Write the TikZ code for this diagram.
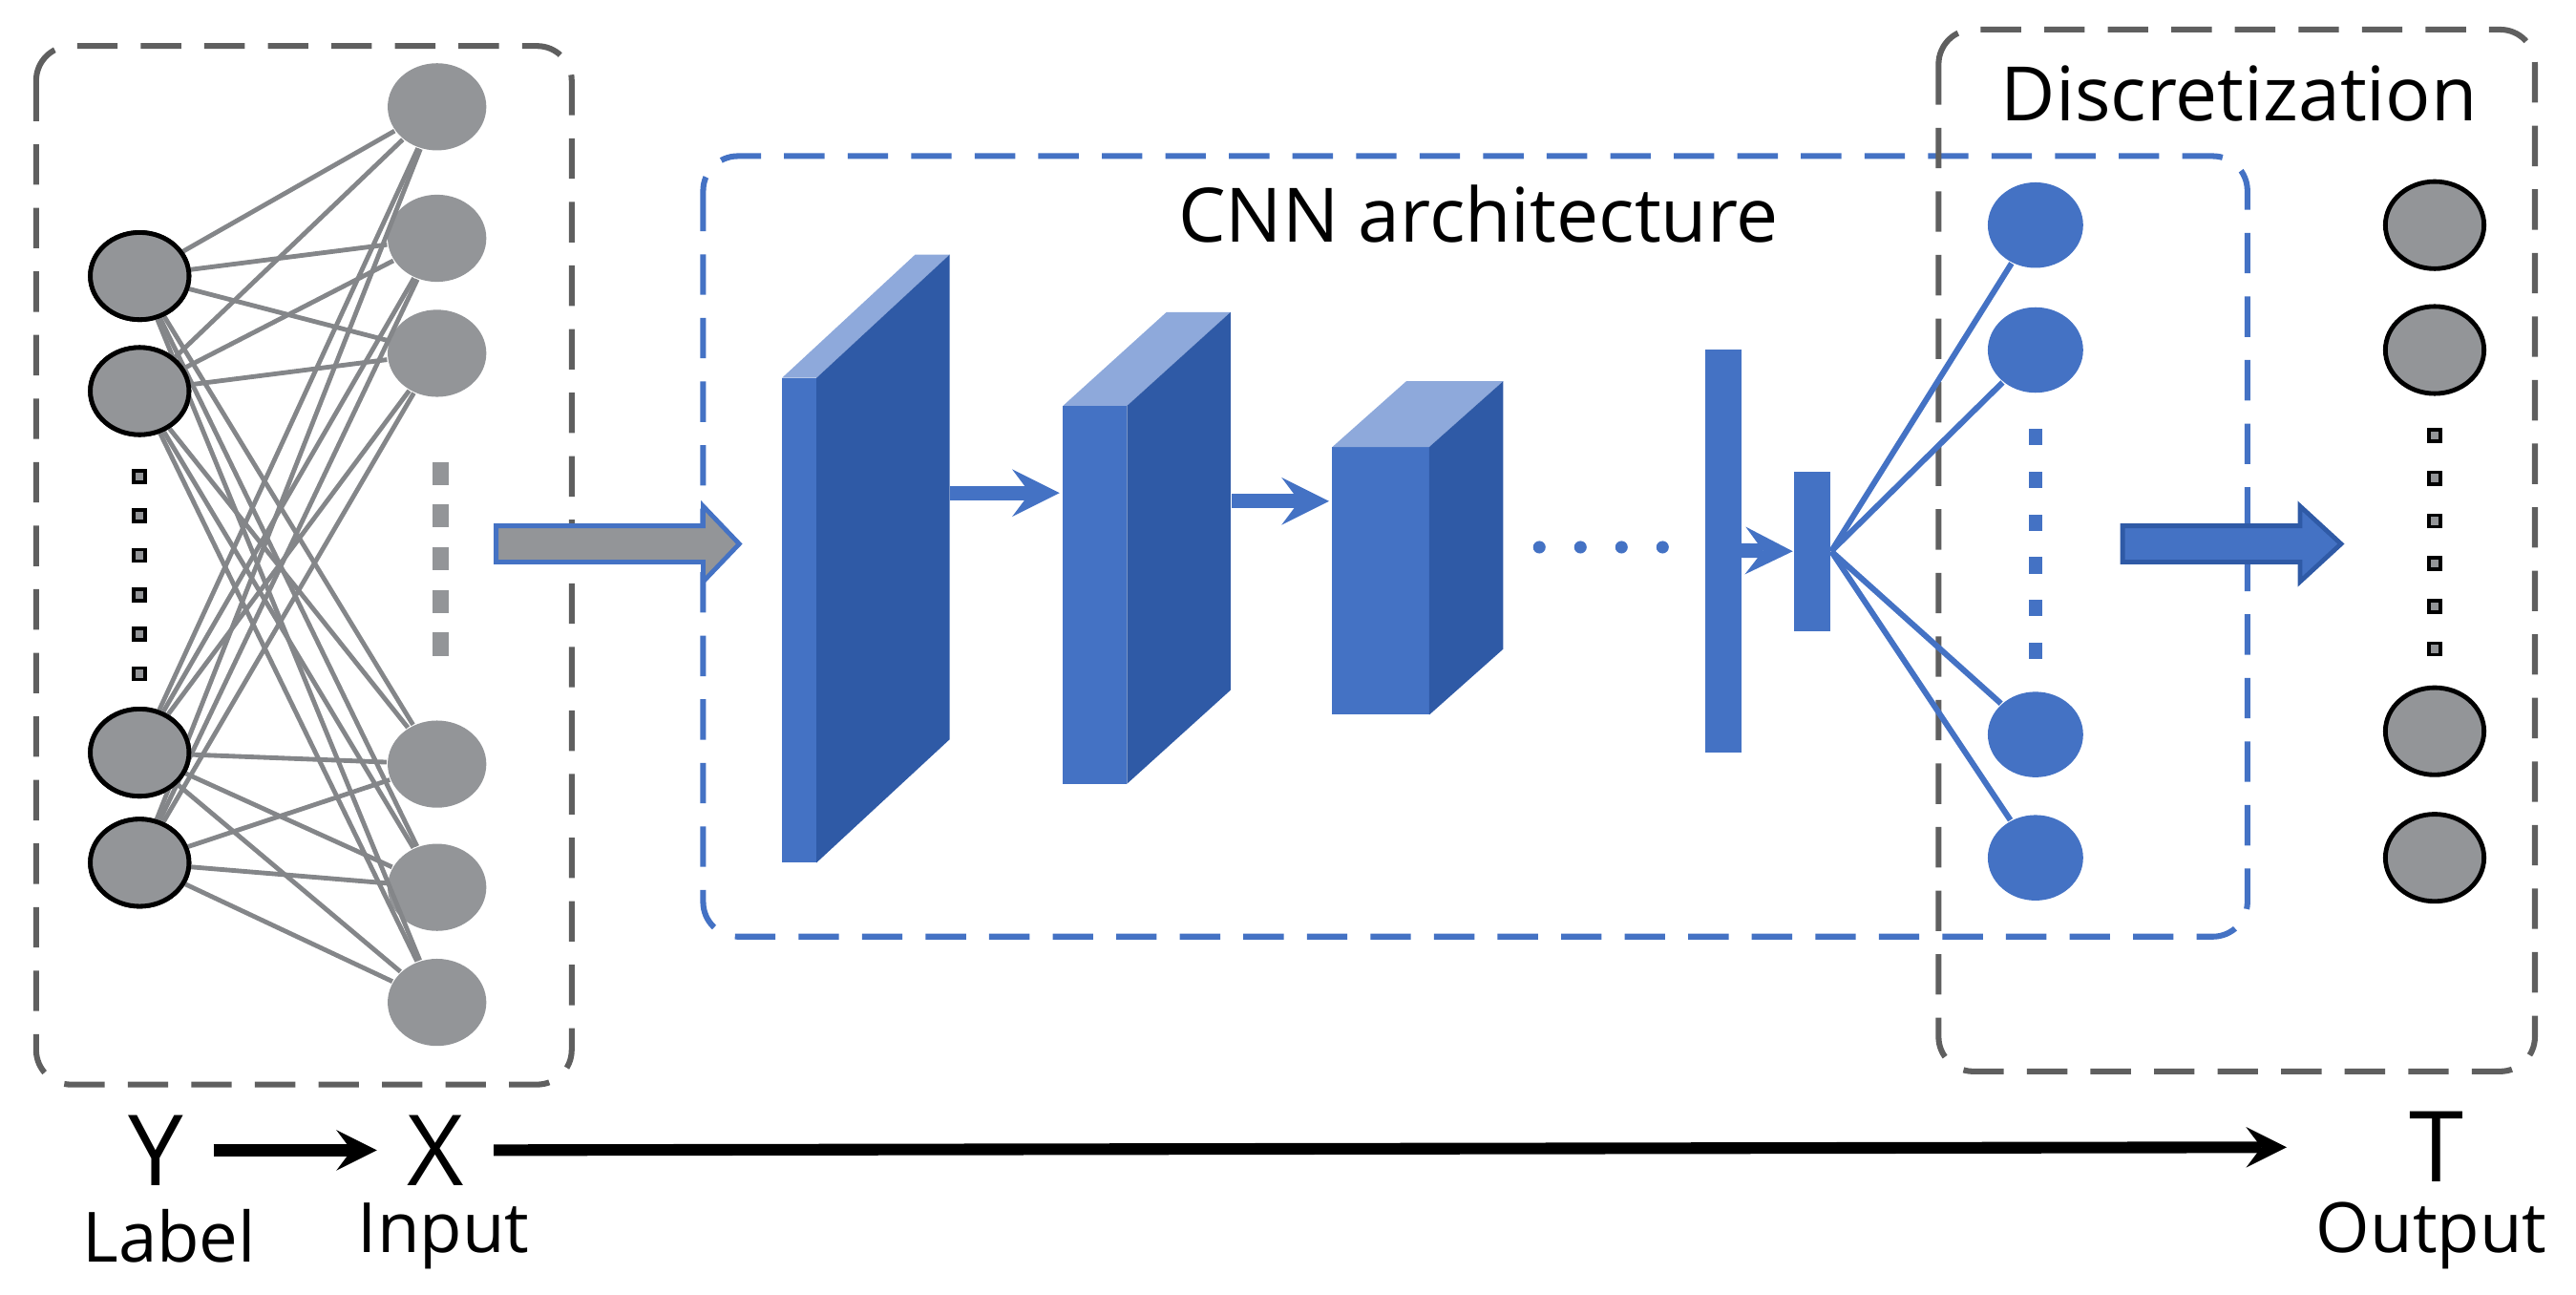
\documentclass[tikz,border=0pt]{standalone}
\usepackage{fontspec}
\setmainfont{Open Sans}
\usetikzlibrary{shapes.geometric,calc}
\definecolor{nblue}{HTML}{4472C4}
\definecolor{dblue}{HTML}{2F5AA6}
\definecolor{lblue}{HTML}{8EA9DB}
\definecolor{ngray}{HTML}{939598}
\definecolor{bgray}{HTML}{5F5F5F}
\tikzset{
  grayn/.style={ellipse,fill=ngray,minimum width=0.6cm,minimum height=0.53cm,inner sep=0pt},
  grayb/.style={grayn,draw=black,line width=0.8pt},
  bluen/.style={ellipse,fill=nblue,minimum width=0.58cm,minimum height=0.52cm,inner sep=0pt},
  box/.style={dashed,dash pattern=on 7pt off 4pt,rounded corners=6pt,line width=1pt},
  sq/.style={draw=black,fill=ngray,line width=0.6pt,minimum size=0.07cm,inner sep=0pt},
  big/.style={font=\fontsize{17}{17}\selectfont,inner sep=1pt},
  lab/.style={font=\fontsize{12}{12}\selectfont,inner sep=1pt},
}
\begin{document}
\begin{tikzpicture}[x=0.01cm,y=-0.01cm,>=stealth]
    \useasboundingbox (0,0) rectangle (1568,788);

    % Boxes
    \draw[box,bgray] (22,28) rectangle (348,660);
    \draw[box,nblue] (428,95) rectangle (1368,570);
    \draw[box,bgray] (1180,18) rectangle (1543,652);
    \node[font=\fontsize{13}{13}\selectfont] (cnn) at (900,130) {CNN architecture};
    \node[font=\fontsize{13}{13}\selectfont] (disc) at (1363,57) {Discretization};

    % Left network
    \foreach \i/\y in {1/168,2/238,3/458,4/525}
        \node[grayb] (y\i) at (85,\y) {};
    \foreach \i/\y in {1/65,2/145,3/215,4/465,5/540,6/610}
        \node[grayn] (x\i) at (266,\y) {};
    \foreach \i in {1,...,4}
        \foreach \j in {1,...,6}
            \draw[ngray!90!black,line width=0.8pt] (y\i) -- (x\j);
    \foreach \i/\y in {1/168,2/238,3/458,4/525}
        \node[grayb] at (85,\y) {};
    \foreach \y in {290,314,...,412}
        \node[sq] at (85,\y) {};
    \foreach \y in {288,314,...,410}
        \fill[ngray] (263,\y-7) rectangle (273,\y+7);

    % Gray arrow
    \draw[nblue,fill=ngray,line width=0.8pt] (302,320) -- (428,320) -- (428,308) -- (450,331)
        -- (428,354) -- (428,342) -- (302,342) -- cycle;

    % Blocks: front x1,x2, y1,y2, dx, dy
    \foreach \a/\b/\c/\d/\dx/\dy in {476/497/230/525/81/75, 647/686/247/477/63/57, 811/870/272/435/45/40}{
        \fill[nblue] (\a,\c) rectangle (\b,\d);
        \fill[lblue] (\a,\c) -- (\a+\dx,\c-\dy) -- (\b+\dx,\c-\dy) -- (\b,\c) -- cycle;
        \fill[dblue] (\b,\c) -- (\b+\dx,\c-\dy) -- (\b+\dx,\d-\dy) -- (\b,\d) -- cycle;
    }
    \coordinate (b1) at (578,300); \coordinate (b2) at (645,300);
    \coordinate (b3) at (750,305); \coordinate (b4) at (809,305);
    \draw[->,nblue,line width=2.5pt] (b1) -- (b2);
    \draw[->,nblue,line width=2.5pt] (b3) -- (b4);
    \foreach \x in {937,962,987,1012}
        \fill[nblue] (\x,333) circle (3.8);
    \fill[nblue] (1038,213) rectangle (1060,458);
    \node[fill=nblue,minimum width=0.22cm,minimum height=0.97cm,inner sep=0pt] (fc) at (1103,335.5) {};
    \coordinate (b5) at (1060,335);
    \draw[->,nblue,line width=2.5pt] (b5) -- (fc.west);

    % Blue nodes
    \foreach \i/\y in {1/137,2/213,3/447,4/522}{
        \node[bluen] (o\i) at (1239,\y) {};
        \draw[nblue,line width=1pt] (fc.east) -- (o\i);
    }
    \foreach \y in {266,292,...,400}
        \fill[nblue] (1235,\y-5) rectangle (1243,\y+5);

    \draw[dblue,fill=nblue,line width=0.8pt] (1292,320) -- (1400,320) -- (1400,308) -- (1425,331)
        -- (1400,354) -- (1400,342) -- (1292,342) -- cycle;

    % Output nodes
    \foreach \i/\y in {1/137,2/213,3/445,4/522}
        \node[grayb] (t\i) at (1482,\y) {};
    \foreach \y in {265,291,...,400}
        \node[sq] at (1482,\y) {};

    % Bottom
    \node[big] (Y) at (95,700) {Y};
    \node[big] (X) at (265,700) {X};
    \node[big] (T) at (1483,698) {T};
    \node[lab] (lab) at (103,752) {Label};
    \node[lab] (inp) at (270,752) {Input};
    \node[lab] (out) at (1480,752) {Output};
    \draw[->,line width=2pt,shorten >=4pt,shorten <=4pt] (Y) -- (X);
    \draw[->,line width=2pt,shorten >=20pt,shorten <=4pt] (X) -- (T);
\end{tikzpicture}
\end{document}
